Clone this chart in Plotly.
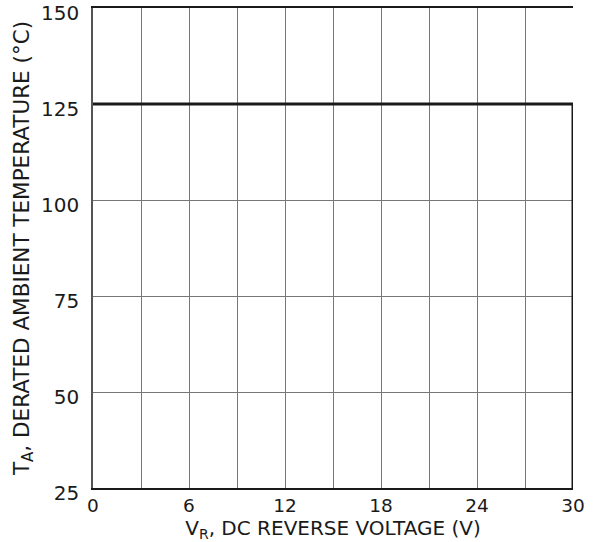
import plotly.graph_objects as go

# Data
voltage = [0, 30, 30]
temperature = [125, 125, 25]
x_ticks = [0, 6, 12, 18, 24, 30]
y_ticks = [25, 50, 75, 100, 125, 150]

fig = go.Figure()
fig.add_trace(go.Scatter(x=voltage, y=temperature, mode="lines",
                         line=dict(color="#1a1a1a", width=3), showlegend=False,
                         cliponaxis=False))

font = dict(family="DejaVu Sans, Arial, sans-serif", size=20, color="#1a1a1a")

# The page is shifted up by 8 px so that the plot's top edge lands at y=8 in the window
fig.update_layout(
    width=593, height=550,
    margin=dict(l=93, r=20, t=16, b=54, autoexpand=False),
    paper_bgcolor="white", plot_bgcolor="white",
    font=font,
    xaxis=dict(range=[0, 30], tickvals=x_ticks, showgrid=True, gridcolor="#777", gridwidth=1,
               minor=dict(dtick=3, showgrid=True, gridcolor="#777", gridwidth=1),
               showline=True, linecolor="#1a1a1a", linewidth=1.5, mirror=True,
               ticks="", zeroline=False, automargin=False, tickfont=dict(size=18.5),
               title=dict(text="V<sub>R</sub>, DC REVERSE VOLTAGE (V)", standoff=2,
                          font=dict(size=20))),
    yaxis=dict(range=[25, 150], tickvals=y_ticks, showgrid=True, gridcolor="#777", gridwidth=1,
               showline=True, linecolor="#555", linewidth=1.5,
               ticks="", zeroline=False, automargin=False, ticklabelstandoff=8,
               ticklabelshift=5,
               title=dict(text="T<sub>A</sub>, DERATED AMBIENT TEMPERATURE (°C)", standoff=6,
                          font=dict(size=21.5))),
)

fig.write_html("out.html", config={"displayModeBar": False},
               post_script="document.body.style.margin='-8px 0 0 0';")
